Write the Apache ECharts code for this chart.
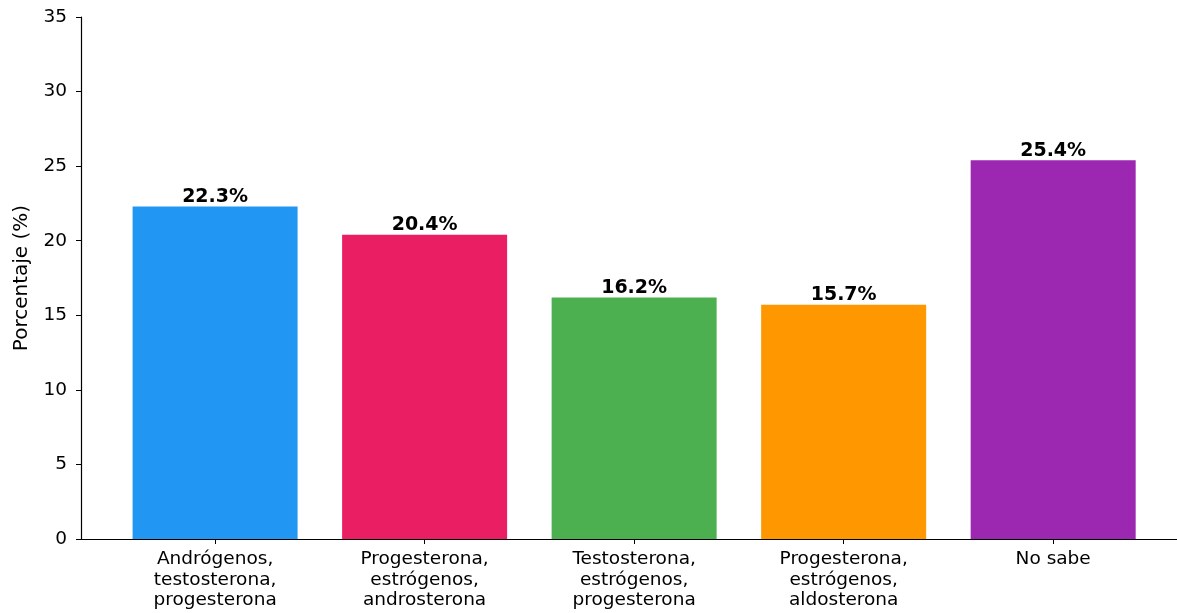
<!DOCTYPE html>
<html>
<head>
<meta charset="utf-8">
<script src="https://cdn.jsdelivr.net/npm/echarts@6/dist/echarts.min.js"></script>
<style>html,body{margin:0;padding:0;background:#fff;}#c{width:1177px;height:613px;}</style>
</head>
<body>
<div id="c"></div>
<script>
const categories = ["Andrógenos,\ntestosterona,\nprogesterona", "Progesterona,\nestrógenos,\nandrosterona", "Testosterona,\nestrógenos,\nprogesterona", "Progesterona,\nestrógenos,\naldosterona", "No sabe"];
const values = [22.3, 20.4, 16.2, 15.7, 25.4];
const colors = ["#2196F3", "#E91E63", "#4CAF50", "#FF9800", "#9C27B0"];
const yTicks = [0, 5, 10, 15, 20, 25, 30, 35];
const positions = categories.map((_, i) => i);

const chart = echarts.init(document.getElementById('c'));
const font = 'DejaVu Sans';
chart.setOption({
  animation: false,
  grid: { left: 81, right: 0, top: 17, bottom: 74, containLabel: false },
  xAxis: {
    type: 'value', min: -0.64, max: 4.591,
    splitLine: { show: false },
    axisLine: { show: true, onZero: false, lineStyle: { color: '#000', width: 1.2 } },
    axisTick: { show: true, customValues: positions, length: 5, lineStyle: { color: '#000' } },
    axisLabel: { customValues: positions, formatter: v => categories[Math.round(v)], color: '#000', fontFamily: font, fontSize: 18.5, lineHeight: 20.5, margin: 10 }
  },
  yAxis: {
    type: 'value', min: 0, max: 35, interval: 5,
    name: 'Porcentaje (%)', nameLocation: 'middle', nameGap: 49, nameRotate: 90,
    nameTextStyle: { color: '#000', fontFamily: font, fontSize: 20 },
    splitLine: { show: false },
    axisLine: { show: true, onZero: false, lineStyle: { color: '#000', width: 1.2 } },
    axisTick: { show: true, length: 5, lineStyle: { color: '#000' } },
    axisLabel: { color: '#000', fontFamily: font, fontSize: 18.5, margin: 14, formatter: v => yTicks.includes(v) ? String(v) : '' }
  },
  series: [{
    type: 'bar', barWidth: 165,
    data: values.map((v, i) => ({ value: [positions[i], v], itemStyle: { color: colors[i] } })),
    label: { show: true, position: 'top', distance: 0, formatter: p => p.value[1].toFixed(1) + '%', color: '#000', fontWeight: 'bold', fontFamily: font, fontSize: 19 }
  }]
});
</script>
</body>
</html>
